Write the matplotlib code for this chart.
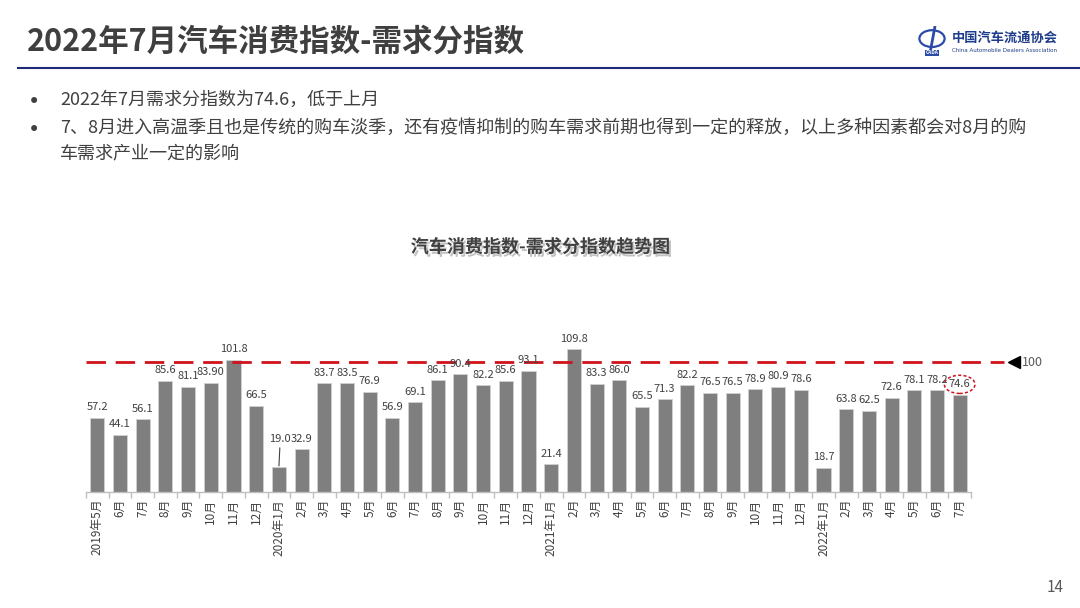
import matplotlib
matplotlib.use("Agg")
import matplotlib.pyplot as plt
import matplotlib.patheffects as pe
from matplotlib.patches import Ellipse
from matplotlib.lines import Line2D

plt.rcParams['font.family'] = ['Noto Sans CJK SC', 'DejaVu Sans']

# data
months = ["2019年5月", "6月", "7月", "8月", "9月", "10月", "11月", "12月",
          "2020年1月", "2月", "3月", "4月", "5月", "6月", "7月", "8月", "9月", "10月", "11月", "12月",
          "2021年1月", "2月", "3月", "4月", "5月", "6月", "7月", "8月", "9月", "10月", "11月", "12月",
          "2022年1月", "2月", "3月", "4月", "5月", "6月", "7月"]
values = [57.2, 44.1, 56.1, 85.6, 81.1, 83.9, 101.8, 66.5,
          19.0, 32.9, 83.7, 83.5, 76.9, 56.9, 69.1, 86.1, 90.4, 82.2, 85.6, 93.1,
          21.4, 109.8, 83.3, 86.0, 65.5, 71.3, 82.2, 76.5, 76.5, 78.9, 80.9, 78.6,
          18.7, 63.8, 62.5, 72.6, 78.1, 78.2, 74.6]
label_override = {5: "83.90"}
ref_level = 100

page_title = "2022年7月汽车消费指数-需求分指数"
chart_title = "汽车消费指数-需求分指数趋势图"
bullets = ["2022年7月需求分指数为74.6，低于上月",
           "7、8月进入高温季且也是传统的购车淡季，还有疫情抑制的购车需求前期也得到一定的释放，以上多种因素都会对8月的购\n车需求产业一定的影响"]

W, H = 1080, 608
fig = plt.figure(figsize=(W / 100, H / 100), dpi=100)


def fx(px):
    return px / W


def fy(py):
    return 1 - py / H


# header
fig.text(fx(27), fy(42), page_title, fontsize=22, weight='bold', color='#3F3F3F', va='center')
fig.add_artist(Line2D([fx(18), 1.0], [fy(68), fy(68)], color='#1F2A78', lw=1.5))

# logo
logo = fig.add_axes([fx(918), fy(54), fx(28), 28 / H])
logo.add_patch(Ellipse((0.5, 0.55), 0.9, 0.6, fill=False, ec='#2B4BA8', lw=1.6))
logo.plot([0.45, 0.6], [0.15, 0.95], color='#2B4BA8', lw=2)
logo.text(0.5, 0.05, "CADA", fontsize=3.5, color='white', ha='center', va='center',
          weight='bold', bbox=dict(boxstyle='square,pad=0.1', fc='#2B4BA8', ec='none'))
logo.set_xlim(0, 1)
logo.set_ylim(0, 1)
logo.axis('off')
fig.text(fx(952), fy(38), "中国汽车流通协会", fontsize=9.5, weight='bold', color='#1E3C8C', va='center')
fig.text(fx(952), fy(50), "China Automobile Dealers Association", fontsize=4, color='#1E3C8C', va='center',
         family='DejaVu Sans')

# bullets
bullet_y = [102, 130]
for by, txt in zip(bullet_y, bullets):
    fig.text(fx(28), fy(by), "•", fontsize=15, color='#404040', va='center', family='DejaVu Sans')
    fig.text(fx(60), fy(by - 11), txt, fontsize=13, color='#404040', va='top', linespacing=1.55)

# chart title
fig.text(fx(540), fy(247), chart_title, fontsize=13, weight='bold', color='#404040',
         ha='center', va='center',
         path_effects=[pe.SimplePatchShadow(offset=(1.5, -2), shadow_rgbFace='#9A9A9A', alpha=0.6),
                       pe.Normal()])

# bar chart
ax = fig.add_axes([fx(86), (H - 492) / H, fx(885), 162.5 / H])
x = list(range(len(values)))
ax.bar(x, values, width=0.62, color='#7F7F7F', edgecolor='#D0D0D0', linewidth=0.6)

for i, v in enumerate(values):
    lab = label_override.get(i, f"{v:.1f}")
    if i == 8:
        ax.annotate(lab, (i, v), xytext=(1, 17), textcoords='offset points',
                    ha='center', va='bottom', fontsize=8, color='#404040',
                    arrowprops=dict(arrowstyle='-', color='#404040', lw=0.8, shrinkA=1, shrinkB=1))
    else:
        ax.annotate(lab, (i, v), xytext=(0, 4), textcoords='offset points',
                    ha='center', va='bottom', fontsize=8, color='#404040')

# highlight circle around latest value
last = len(values) - 1
ax.add_patch(Ellipse((last, values[last] + 8.2), 1.35, 14, fill=False, ec='#D0121B',
                     ls=(0, (2, 1.5)), lw=1.1, clip_on=False))

# reference line at 100
ax.plot([-0.5, 39.95], [ref_level, ref_level], color='#D0121B', lw=2,
        ls=(0, (7, 3.5)), clip_on=False)
ax.plot(40.4, ref_level, marker='<', color='black', ms=9, clip_on=False)
ax.text(40.75, ref_level, str(ref_level), va='center', ha='left', fontsize=9, color='#595959')

ax.set_xlim(-0.5, len(values) - 0.5)
ax.set_ylim(0, 125)
ax.set_xticks(x)
ax.set_xticklabels(months, rotation=90, fontsize=8.5, color='#404040')
ax.set_xticks([i - 0.5 for i in range(len(values) + 1)], minor=True)
ax.tick_params(axis='x', which='major', length=0, pad=5)
ax.tick_params(axis='x', which='minor', length=4, color='#BFBFBF', width=1)
ax.set_yticks([])
for side in ['left', 'right', 'top']:
    ax.spines[side].set_visible(False)
ax.spines['bottom'].set_color('#BFBFBF')
ax.spines['bottom'].set_linewidth(1)
ax.patch.set_alpha(0)

# page number
fig.text(fx(1055), fy(588), "14", fontsize=11, color='#595959', ha='center', va='center')

fig.savefig("out.png", dpi=100)
